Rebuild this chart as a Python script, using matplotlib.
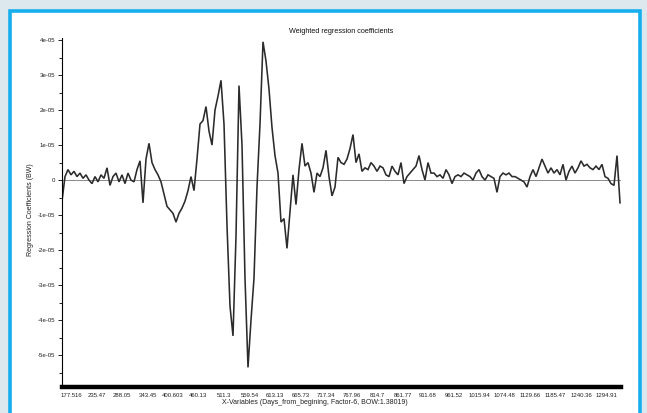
import numpy as np
import matplotlib
matplotlib.use('Agg')
import matplotlib.pyplot as plt
from matplotlib.patches import Rectangle
from matplotlib.ticker import FixedLocator, MultipleLocator

plt.rcParams['font.family'] = ['Liberation Sans', 'DejaVu Sans']

# ---------------------------------------------------------------------------
TITLE  = 'Weighted regression coefficients'
XLABEL = 'X-Variables (Days_from_begining, Factor-6, BOW:1.38019)'
YLABEL = 'Regression Coefficients (BW)'

# day labels shown under the variable axis
DAY_LABELS = ['177.516', '235.47', '288.05', '343.45', '400.603', '460.13',
              '511.3', '559.54', '613.13', '665.73', '717.34', '767.96',
              '814.7', '861.77', '911.68', '961.52', '1015.94', '1074.48',
              '1129.66', '1185.47', '1240.36', '1294.91']

# weighted regression coefficients (units of 1e-5), one per variable
COEF_E5 = [
    -0.60, 0.10, 0.30, 0.15, 0.25, 0.10, 0.20, 0.05, 0.15, 0.00,
    -0.10, 0.10, -0.05, 0.15, 0.05, 0.35, -0.15, 0.10, 0.20, -0.05,
    0.15, -0.10, 0.20, 0.00, -0.05, 0.30, 0.55, -0.65, 0.60, 1.05,
    0.50, 0.30, 0.15, -0.05, -0.40, -0.75, -0.85, -0.95, -1.20, -0.95,
    -0.80, -0.60, -0.30, 0.10, -0.30, 0.60, 1.60, 1.70, 2.10, 1.40,
    1.00, 2.00, 2.40, 2.85, 1.60, -1.30, -3.60, -4.45, -1.60, 2.70,
    1.00, -2.80, -5.35, -4.00, -2.80, -0.20, 1.60, 3.95, 3.40, 2.60,
    1.50, 0.70, 0.20, -1.20, -1.10, -1.95, -0.90, 0.15, -0.70, 0.30,
    1.05, 0.40, 0.50, 0.20, -0.35, 0.20, 0.10, 0.35, 0.85, 0.10,
    -0.45, -0.20, 0.65, 0.50, 0.45, 0.60, 0.90, 1.30, 0.50, 0.75,
    0.25, 0.35, 0.30, 0.50, 0.40, 0.25, 0.40, 0.35, 0.15, 0.10,
    0.40, 0.25, 0.15, 0.50, -0.10, 0.10, 0.20, 0.30, 0.40, 0.70,
    0.30, 0.00, 0.50, 0.20, 0.20, 0.10, 0.15, 0.05, 0.30, 0.15,
    -0.10, 0.10, 0.15, 0.10, 0.20, 0.15, 0.10, 0.00, 0.20, 0.30,
    0.10, 0.00, 0.15, 0.10, 0.05, -0.35, 0.10, 0.20, 0.15, 0.20,
    0.10, 0.10, 0.05, 0.00, -0.05, -0.20, 0.10, 0.30, 0.10, 0.35,
    0.60, 0.40, 0.20, 0.35, 0.20, 0.30, 0.15, 0.45, 0.00, 0.25,
    0.40, 0.20, 0.35, 0.55, 0.40, 0.45, 0.35, 0.30, 0.40, 0.30,
    0.45, 0.10, 0.05, -0.10, -0.15, 0.70, -0.65,
]
# ---------------------------------------------------------------------------

coef = np.array(COEF_E5) * 1e-5
var_idx = np.arange(len(coef))

fig = plt.figure(figsize=(6.47, 4.13), dpi=100, facecolor='#dde8ee')

# white panel with blue frame, kept behind the axes
fig.patches.append(Rectangle((10 / 647, -0.02), 630 / 647, 1 - 11 / 413 + 0.02,
                             transform=fig.transFigure, facecolor='white',
                             edgecolor='#17aeee', lw=2.6, zorder=-10))

ax = fig.add_axes([62 / 647, 1 - 387 / 413, 559 / 647, (387 - 38.3) / 413])
ax.set_facecolor('none')

ax.plot(var_idx, coef, color='#2b2b2b', lw=1.15, solid_joinstyle='miter')
ax.axhline(0, color='#8a8a8a', lw=0.7, zorder=1)

ax.set_xlim(0, (621 - 62) / 3)
ax.set_ylim(-5.91e-5, 4.05e-5)

for side in ('top', 'right'):
    ax.spines[side].set_visible(False)
ax.spines['left'].set_linewidth(0.8)
ax.spines['bottom'].set_linewidth(3.2)

# category ticks spread evenly across the variable axis
xt = np.linspace(3, 181.5, len(DAY_LABELS))
ax.xaxis.set_major_locator(FixedLocator(xt))
ax.set_xticklabels(DAY_LABELS)
ax.tick_params(axis='x', length=0, pad=4, labelsize=4.3, colors='#222222')

yt = np.arange(-5, 5) * 1e-5
ax.set_yticks(yt)
ax.set_yticklabels(['0' if v == 0 else f'{v:.0e}' for v in yt])
ax.yaxis.set_minor_locator(MultipleLocator(0.5e-5))
ax.tick_params(axis='y', which='major', length=3, width=0.7,
               labelsize=4.4, colors='#222222', pad=2)
ax.tick_params(axis='y', which='minor', length=2, width=0.6)

ax.set_title(TITLE, fontsize=5.2, pad=4, color='#111111')
fig.text(315 / 647, 1 - 403 / 413, XLABEL, ha='center', va='center',
         fontsize=5, color='#222222')
fig.text(30 / 647, 1 - 210 / 413, YLABEL, ha='center', va='center',
         rotation=90, fontsize=5, color='#222222')

fig.savefig('out.png', dpi=100, facecolor=fig.get_facecolor())
plt.close(fig)
